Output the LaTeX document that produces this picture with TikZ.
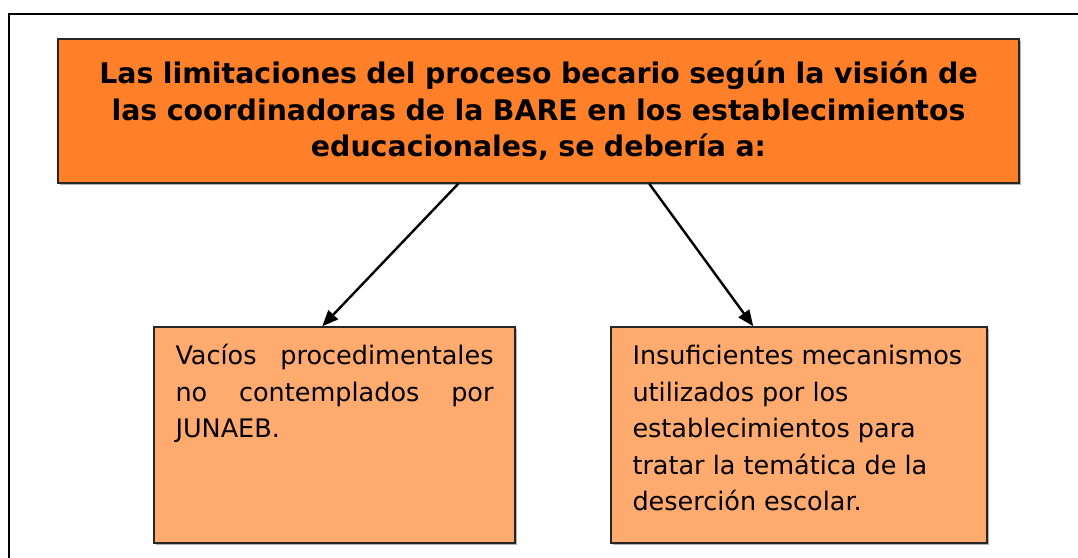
\documentclass[tikz,border=0pt]{standalone}
\usepackage{fontspec}
\setmainfont{DejaVu Sans}
\usepackage{xcolor}
\usetikzlibrary{arrows.meta, shadows}

\definecolor{headorange}{RGB}{255,128,40}
\definecolor{paleorange}{RGB}{255,170,110}

\begin{document}
\begin{tikzpicture}[->,>={Triangle[length=16pt,width=13pt]},x=1pt,y=-1pt,line width=2.4pt]
        \tikzstyle{topbox}=[draw=black!85,line width=1.5pt,fill=headorange,minimum width=961pt,minimum height=144pt,
                            text width=940pt,align=center,inner sep=0pt,drop shadow={shadow xshift=1.5pt,shadow yshift=-1.5pt,fill=black!30,opacity=1},
                            font=\fontsize{28.4}{36.5}\selectfont\bfseries]
        \tikzstyle{lowbox}=[draw=black!85,line width=1.5pt,fill=paleorange,inner xsep=21.5pt,inner ysep=12pt,
                            drop shadow={shadow xshift=1.5pt,shadow yshift=-1.5pt,fill=black!30,opacity=1}]

        \useasboundingbox (0,0) rectangle (1078,557);
        \begin{scope}
            \clip (0,0) rectangle (1078,557);
            \draw[-,line width=2.2pt] (9,14) rectangle (1100,580);
        \end{scope}

        \node[topbox] (top) at (538.5,111) {Las limitaciones del proceso becario según la visión de\\
                                             las coordinadoras de la BARE en los establecimientos\\
                                             educacionales, se debería a:};
        \node[lowbox] (vacios) at (334.5,435) {\parbox[c][192pt][t]{318pt}{\fontsize{25.5}{36.5}\selectfont\strut
                                             Vacíos procedimentales\linebreak no contemplados por\linebreak JUNAEB.}};
        \node[lowbox] (mecanismos) at (799,435) {\parbox[c][192pt][t]{333pt}{\fontsize{25.5}{36.5}\selectfont\raggedright\strut
                                             Insuficientes mecanismos\\ utilizados por los\\ establecimientos para\\
                                             tratar la temática de la\\ deserción escolar.}};

        \path ([xshift=401pt]top.south west) edge ([xshift=169pt]vacios.north west)
              ([xshift=592pt]top.south west) edge ([xshift=143pt]mecanismos.north west);
\end{tikzpicture}
\end{document}
